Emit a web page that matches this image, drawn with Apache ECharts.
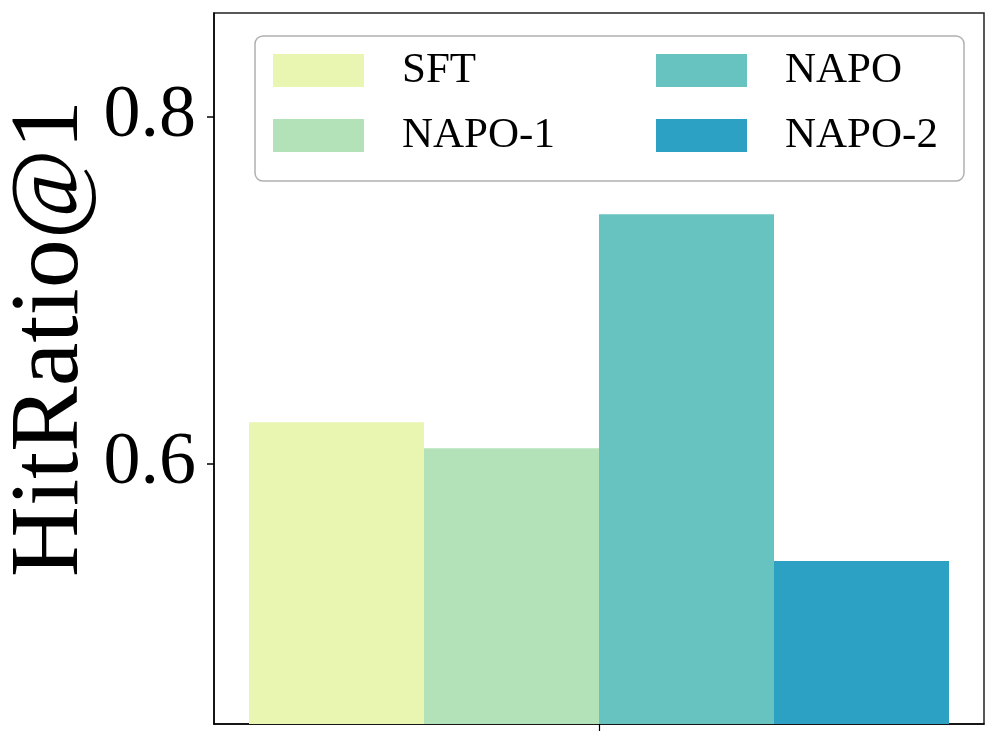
<!DOCTYPE html>
<html>
<head>
<meta charset="utf-8">
<script src="https://cdn.jsdelivr.net/npm/echarts@6/dist/echarts.min.js"></script>
<style>html,body{margin:0;padding:0;background:#fff}#chart{width:997px;height:744px}</style>
</head>
<body>
<div id="chart"></div>
<script>
const categories = [''];
const seriesNames = ['SFT', 'NAPO-1', 'NAPO', 'NAPO-2'];
const sftValues = [0.624];
const napo1Values = [0.609];
const napoValues = [0.744];
const napo2Values = [0.544];
const yTickValues = [0.6, 0.8];
const seriesColors = ['#e8f6b1', '#b3e2b8', '#66c3c0', '#2ca1c4'];

const FONT = "'Liberation Serif', 'Times New Roman', 'DejaVu Serif', serif";
const valuesList = [sftValues, napo1Values, napoValues, napo2Values];

const chart = echarts.init(document.getElementById('chart'), null, {renderer: 'canvas'});
chart.setOption({
  animation: false,
  backgroundColor: '#fff',
  grid: {left: 214, right: 13, top: 13, bottom: 20, show: true, borderColor: '#222', borderWidth: 1.5,
    containLabel: false, outerBoundsMode: 'none'},
  legend: {
    left: 255, top: 36,
    orient: 'horizontal',
    width: 720,
    padding: [13, 9, 24, 18],
    itemGap: 22,
    itemWidth: 91,
    itemHeight: 33,
    borderColor: '#b0b0b0', borderWidth: 1.5, borderRadius: 8,
    backgroundColor: 'rgba(255,255,255,0.8)',
    icon: 'rect',
    textStyle: {fontFamily: FONT, fontSize: 43, color: '#000', lineHeight: 33},
    data: [
      {name: 'SFT', textStyle: {width: 232, padding: [0, 0, 0, 33]}},
      {name: 'NAPO', textStyle: {width: 170, padding: [0, 0, 0, 33]}},
      {name: 'NAPO-1', textStyle: {width: 232, padding: [0, 0, 0, 33]}},
      {name: 'NAPO-2', textStyle: {width: 170, padding: [0, 0, 0, 33]}}
    ]
  },
  xAxis: {
    type: 'category',
    data: categories,
    axisLine: {show: true, lineStyle: {color: '#000', width: 1.5}},
    axisTick: {show: true, alignWithLabel: true, length: 7, lineStyle: {color: '#000', width: 1.2}},
    axisLabel: {show: false},
    splitLine: {show: false}
  },
  yAxis: {
    type: 'value',
    min: 0.45, max: 0.86,
    name: 'HitRatio@1',
    nameLocation: 'middle',
    nameGap: 114,
    nameMoveOverlap: false,
    nameTextStyle: {fontFamily: FONT, fontSize: 98, color: '#000', padding: [0, 0, 0, 60]},
    axisLine: {show: true, lineStyle: {color: '#000', width: 1.5}},
    axisTick: {show: true, length: 7, customValues: yTickValues, lineStyle: {color: '#000', width: 1.5}},
    axisLabel: {fontFamily: FONT, fontSize: 74, color: '#000', margin: 18, customValues: yTickValues,
      formatter: v => v.toFixed(1)},
    splitLine: {show: false}
  },
  series: seriesNames.map((name, i) => ({
    name: name,
    type: 'bar',
    data: valuesList[i],
    barWidth: 175,
    barGap: '0%',
    itemStyle: {color: seriesColors[i]}
  }))
});
</script>
</body>
</html>
